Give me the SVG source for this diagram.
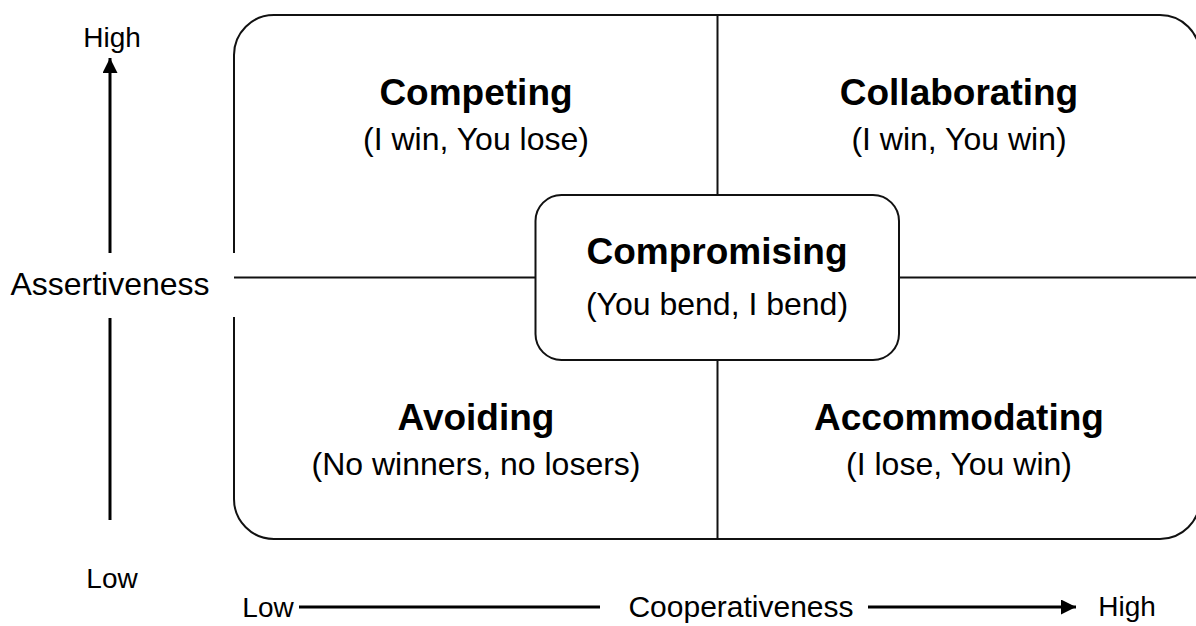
<svg xmlns="http://www.w3.org/2000/svg" width="1196" height="626" viewBox="0 0 1196 626">
  <style>
    .title { font-family: "Liberation Sans", Arial, sans-serif; font-weight: bold; font-size: 37px; fill: #000; text-anchor: middle; }
    .sub { font-family: "Liberation Sans", Arial, sans-serif; font-size: 32px; fill: #000; text-anchor: middle; }
    .axis { font-family: "Liberation Sans", Arial, sans-serif; font-size: 28px; fill: #000; text-anchor: middle; }
    .axis-y { font-family: "Liberation Sans", Arial, sans-serif; font-size: 32px; fill: #000; text-anchor: middle; }
    .axis-x { font-family: "Liberation Sans", Arial, sans-serif; font-size: 30px; fill: #000; text-anchor: middle; }
    .frame { fill: none; stroke: #111; stroke-width: 2; }
    .axisline { stroke: #000; stroke-width: 3; fill: none; }
  </style>
  <defs>
    <marker id="arrow" viewBox="0 0 15 15" refX="15" refY="7.5" markerWidth="15" markerHeight="15" markerUnits="userSpaceOnUse" orient="auto">
      <path d="M0,0 L15,7.5 L0,15 Z" fill="#000"/>
    </marker>
  </defs>
  <rect width="1196" height="626" fill="#fff"/>

  <!-- outer grid frame -->
  <g id="grid">
    <rect class="frame" x="234" y="15" width="966" height="524" rx="40" ry="40"/>
    <!-- label background breaks the left edge -->
    <rect x="0" y="253" width="235" height="64" fill="#fff"/>
  </g>

  <!-- quadrant dividers and axes -->
  <g id="connectors">
    <line class="frame" x1="717.5" y1="15" x2="717.5" y2="196"/>
    <line class="frame" x1="717.5" y1="359" x2="717.5" y2="539"/>
    <line class="frame" x1="234" y1="277.5" x2="536" y2="277.5"/>
    <line class="frame" x1="899" y1="277.5" x2="1196" y2="277.5"/>
    <!-- assertiveness axis -->
    <line class="axisline" x1="110" y1="253" x2="110" y2="58" marker-end="url(#arrow)"/>
    <line class="axisline" x1="110" y1="318" x2="110" y2="520"/>
    <!-- cooperativeness axis -->
    <line class="axisline" x1="299" y1="607" x2="600" y2="607"/>
    <line class="axisline" x1="868" y1="607" x2="1076" y2="607" marker-end="url(#arrow)"/>
  </g>

  <g id="competing">
    <text class="title" x="476" y="105">Competing</text>
    <text class="sub" x="476" y="150">(I win, You lose)</text>
  </g>
  <g id="collaborating">
    <text class="title" x="959" y="105">Collaborating</text>
    <text class="sub" x="959" y="150">(I win, You win)</text>
  </g>
  <g id="avoiding">
    <text class="title" x="476" y="430">Avoiding</text>
    <text class="sub" x="476" y="475">(No winners, no losers)</text>
  </g>
  <g id="accommodating">
    <text class="title" x="959" y="430">Accommodating</text>
    <text class="sub" x="959" y="475">(I lose, You win)</text>
  </g>
  <g id="compromising">
    <rect class="frame" x="535.5" y="195" width="363.5" height="165" rx="26" ry="26" fill="#fff"/>
    <text class="title" x="717" y="264">Compromising</text>
    <text class="sub" x="717" y="315">(You bend, I bend)</text>
  </g>

  <g id="axis-labels">
    <text class="axis" x="112" y="47">High</text>
    <text class="axis" x="112" y="588">Low</text>
    <text class="axis-y" x="110" y="295">Assertiveness</text>
    <text class="axis" x="268" y="617">Low</text>
    <text class="axis-x" x="741" y="617">Cooperativeness</text>
    <text class="axis" x="1127" y="616">High</text>
  </g>
</svg>
